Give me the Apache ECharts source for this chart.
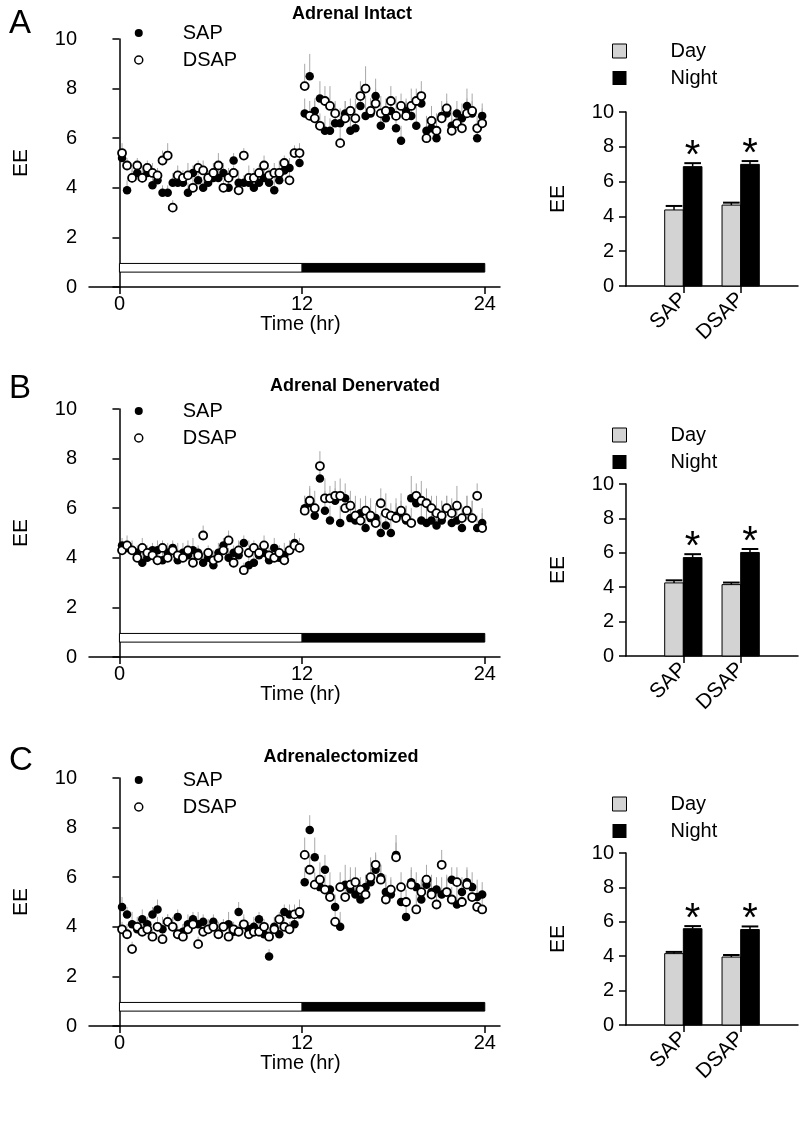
<!DOCTYPE html>
<html><head><meta charset="utf-8">
<script src="https://cdn.jsdelivr.net/npm/echarts@6/dist/echarts.min.js"></script>
<style>html,body{margin:0;padding:0;background:#fff}#c{width:800px;height:1124px}</style>
</head><body><div id="c"></div>
<script>
const FONT = "'Liberation Sans', Arial, sans-serif";

// sampling times (hr)
const times = [0.17,0.5,0.83,1.17,1.5,1.83,2.17,2.5,2.83,3.17,3.5,3.83,4.17,4.5,4.83,5.17,5.5,5.83,6.17,6.5,6.83,7.17,7.5,7.83,8.17,8.5,8.83,9.17,9.5,9.83,10.17,10.5,10.83,11.17,11.5,11.83,
  12.17,12.5,12.83,13.17,13.5,13.83,14.17,14.5,14.83,15.17,15.5,15.83,16.17,16.5,16.83,17.17,17.5,17.83,18.17,18.5,18.83,19.17,19.5,19.83,20.17,20.5,20.83,21.17,21.5,21.83,22.17,22.5,22.83,23.17,23.5,23.83];
const timeTicks = [0, 12, 24];

// Panel A — Adrenal Intact
const A_SAP = [5.2,3.9,4.4,4.6,4.4,4.6,4.1,4.3,3.8,3.8,4.2,4.2,4.2,3.8,4.6,4.3,4.0,4.2,4.4,4.4,4.6,4.0,5.1,4.2,4.2,4.2,4.0,4.2,4.4,4.2,3.9,4.3,4.7,4.8,5.4,5.0,
  7.0,8.5,7.1,7.6,6.3,6.3,6.6,6.6,7.0,6.3,6.4,7.3,6.9,7.0,7.7,6.5,6.8,7.1,6.4,5.9,7.1,6.9,6.5,7.4,6.3,6.4,6.0,6.9,7.0,6.5,7.0,6.8,7.3,7.0,6.0,6.9];
const A_DSAP = [5.4,4.9,4.4,4.9,4.4,4.8,4.6,4.5,5.1,5.3,3.2,4.5,4.4,4.5,4.0,4.8,4.7,4.4,4.6,4.9,4.0,4.4,4.6,3.9,5.3,4.4,4.4,4.6,4.9,4.5,4.6,4.6,5.0,4.3,5.4,5.4,
  8.1,6.9,6.8,6.5,7.5,7.3,7.0,5.8,6.8,7.1,6.8,7.7,8.0,7.1,7.4,7.0,7.1,7.5,6.9,7.3,6.9,7.3,7.5,7.7,6.0,6.7,6.3,6.8,7.2,6.3,6.6,6.4,7.0,7.1,6.4,6.6];
const A_SAP_SEM = [0.3,0.4,0.3,0.5,0.3,0.4,0.3,0.4,0.3,0.3,0.4,0.5,0.3,0.4,0.3,0.5,0.3,0.4,0.3,0.3,0.4,0.4,0.3,0.5,0.3,0.4,0.3,0.3,0.4,0.3,0.5,0.4,0.3,0.4,0.3,0.4,
  0.6,0.9,0.5,0.7,0.6,0.5,0.8,0.6,0.5,0.7,0.6,0.5,0.8,0.6,0.7,0.5,0.6,0.5,0.7,0.6,0.5,0.6,0.8,0.5,0.6,0.5,0.7,0.6,0.5,0.6,0.5,0.6,0.7,0.5,0.6,0.5];
const A_DSAP_SEM = [0.4,0.3,0.4,0.3,0.5,0.3,0.4,0.3,0.4,0.5,0.3,0.4,0.3,0.5,0.4,0.3,0.4,0.3,0.4,0.5,0.3,0.4,0.3,0.4,0.3,0.5,0.4,0.3,0.4,0.3,0.4,0.5,0.3,0.4,0.3,0.4,
  0.9,0.6,0.7,0.5,0.6,0.8,0.5,0.6,0.7,0.5,0.8,0.6,0.9,0.5,0.6,0.7,0.5,0.6,0.8,0.5,0.6,0.7,0.5,0.6,0.5,0.6,0.7,0.5,0.6,0.5,0.6,0.5,0.6,0.7,0.5,0.6];
const A_DAY_MEAN = [4.37, 4.65];
const A_DAY_SEM = [0.23, 0.14];
const A_NIGHT_MEAN = [6.86, 6.99];
const A_NIGHT_SEM = [0.2, 0.19];

// Panel B — Adrenal Denervated
const B_SAP = [4.5,4.4,4.3,4.2,3.8,4.0,4.3,4.3,3.9,4.2,4.4,3.9,4.2,4.1,4.3,4.2,3.8,4.0,3.7,4.2,4.5,4.0,4.2,4.1,4.6,3.7,3.8,4.1,4.2,3.9,4.4,4.0,4.1,4.3,4.6,4.4,
  6.0,6.2,5.7,7.2,5.9,5.5,6.3,5.4,6.4,5.6,5.5,5.8,5.2,5.6,5.6,5.0,5.3,5.0,5.7,5.8,5.5,6.4,6.2,5.5,5.4,5.5,5.3,5.5,6.0,5.4,5.5,5.2,5.9,5.6,5.2,5.4];
const B_DSAP = [4.3,4.5,4.3,4.0,4.4,4.2,4.1,3.9,4.4,4.0,4.3,4.1,4.0,4.3,3.8,4.1,4.9,4.2,3.9,4.0,4.3,4.7,3.8,4.3,3.5,4.2,4.4,4.2,4.5,4.1,4.0,4.2,3.9,4.3,4.5,4.4,
  5.9,6.3,6.0,7.7,6.4,6.4,6.5,6.5,6.0,6.1,5.7,5.5,5.9,5.7,5.4,6.2,5.8,5.7,5.6,5.9,5.6,5.4,6.5,6.3,6.2,6.0,5.8,5.7,6.0,5.8,6.1,5.6,5.9,5.6,6.5,5.2];
const B_SAP_SEM = [0.3,0.3,0.4,0.3,0.4,0.3,0.3,0.4,0.3,0.4,0.3,0.3,0.4,0.3,0.5,0.3,0.4,0.3,0.3,0.4,0.3,0.4,0.3,0.5,0.3,0.4,0.3,0.4,0.3,0.3,0.4,0.3,0.5,0.3,0.4,0.3,
  0.5,0.7,0.6,0.5,0.8,0.6,0.5,0.7,0.6,0.5,0.8,0.6,0.7,0.5,0.6,0.8,0.5,0.6,0.7,0.5,0.6,0.9,0.5,0.6,0.7,0.5,0.6,0.8,0.5,0.6,0.7,0.5,0.6,0.7,0.5,0.6];
const B_DSAP_SEM = [0.3,0.4,0.3,0.3,0.4,0.3,0.4,0.3,0.3,0.4,0.3,0.5,0.3,0.4,0.3,0.3,0.4,0.3,0.4,0.3,0.3,0.4,0.3,0.4,0.3,0.5,0.3,0.3,0.4,0.3,0.4,0.3,0.3,0.4,0.3,0.4,
  0.6,0.5,0.7,0.6,0.8,0.5,0.6,0.7,0.5,0.6,0.8,0.5,0.6,0.7,0.5,0.6,0.8,0.5,0.6,0.7,0.5,0.6,0.5,0.8,0.6,0.5,0.7,0.6,0.5,0.6,0.8,0.5,0.6,0.7,0.5,0.6];
const B_DAY_MEAN = [4.25, 4.15];
const B_DAY_SEM = [0.15, 0.12];
const B_NIGHT_MEAN = [5.72, 6.02];
const B_NIGHT_SEM = [0.2, 0.2];

// Panel C — Adrenalectomized
const C_SAP = [4.8,4.5,4.1,3.9,4.3,4.1,4.5,4.7,3.9,4.2,4.0,4.4,3.8,4.1,4.3,4.1,4.2,3.9,4.2,3.7,4.0,4.1,3.8,4.6,4.1,3.9,4.0,4.3,3.7,2.8,4.0,3.7,4.6,4.5,4.1,4.5,
  5.8,7.9,6.8,5.6,6.3,5.5,4.8,4.0,5.7,5.5,5.3,5.1,5.6,5.8,6.3,6.0,5.4,5.3,6.9,5.0,4.4,5.8,5.6,5.1,5.7,5.4,5.5,5.3,5.4,5.9,4.9,5.4,5.8,5.6,5.2,5.3];
const C_DSAP = [3.9,3.7,3.1,4.0,3.8,3.9,3.6,4.0,3.5,4.2,4.0,3.7,3.6,3.9,4.1,3.3,3.8,3.9,4.0,3.7,4.0,3.6,3.9,3.8,4.1,3.7,3.8,3.8,4.0,3.6,3.9,4.3,4.0,3.9,4.5,4.6,
  6.9,6.3,5.7,5.9,5.5,5.2,4.2,5.6,5.2,5.7,5.8,5.5,5.3,6.0,6.5,5.9,5.1,5.5,6.8,5.6,5.0,5.7,4.7,5.4,5.9,5.3,4.9,6.5,5.4,5.1,5.8,5.0,5.7,5.2,4.8,4.7];
const C_SAP_SEM = [0.4,0.3,0.5,0.3,0.4,0.3,0.3,0.4,0.5,0.3,0.4,0.3,0.3,0.4,0.3,0.5,0.3,0.4,0.3,0.4,0.3,0.5,0.3,0.4,0.3,0.3,0.4,0.3,0.5,0.3,0.4,0.3,0.3,0.4,0.5,0.4,
  0.6,0.6,0.8,0.5,0.6,0.7,0.5,0.6,0.8,0.5,0.6,0.7,0.5,0.8,0.6,0.5,0.7,0.6,0.5,0.6,0.8,0.5,0.6,0.7,0.5,0.6,0.5,0.7,0.6,0.5,0.8,0.6,0.5,0.6,0.7,0.5];
const C_DSAP_SEM = [0.3,0.4,0.3,0.4,0.3,0.5,0.3,0.4,0.3,0.3,0.4,0.3,0.5,0.3,0.4,0.3,0.3,0.4,0.3,0.5,0.3,0.4,0.3,0.3,0.4,0.3,0.4,0.5,0.3,0.4,0.3,0.3,0.4,0.3,0.4,0.5,
  0.7,0.6,0.5,0.7,0.6,0.5,0.8,0.6,0.5,0.7,0.6,0.5,0.6,0.8,0.5,0.6,0.7,0.5,0.9,0.6,0.5,0.7,0.6,0.5,0.6,0.8,0.5,0.6,0.7,0.5,0.6,0.5,0.7,0.6,0.5,0.6];
const C_DAY_MEAN = [4.15, 3.95];
const C_DAY_SEM = [0.1, 0.12];
const C_NIGHT_MEAN = [5.6, 5.55];
const C_NIGHT_SEM = [0.15, 0.18];

const barGroups = ['SAP', 'DSAP'];
const barGroupPos = [1, 2];
const sigMarks = ['*', '*'];
const phases = [ {from: 0, to: 12, kind: 'light'}, {from: 12, to: 24, kind: 'dark'} ];
const phaseBarLevel = [0.6, 0.95];

const panelLetters = ['A', 'B', 'C'];
const panelTitles = ['Adrenal Intact', 'Adrenal Denervated', 'Adrenalectomized'];

const panels = [
  {sap: A_SAP, dsap: A_DSAP, sapSem: A_SAP_SEM, dsapSem: A_DSAP_SEM, dm: A_DAY_MEAN, ds: A_DAY_SEM, nm: A_NIGHT_MEAN, ns: A_NIGHT_SEM},
  {sap: B_SAP, dsap: B_DSAP, sapSem: B_SAP_SEM, dsapSem: B_DSAP_SEM, dm: B_DAY_MEAN, ds: B_DAY_SEM, nm: B_NIGHT_MEAN, ns: B_NIGHT_SEM},
  {sap: C_SAP, dsap: C_DSAP, sapSem: C_SAP_SEM, dsapSem: C_DSAP_SEM, dm: C_DAY_MEAN, ds: C_DAY_SEM, nm: C_NIGHT_MEAN, ns: C_NIGHT_SEM}
];

// layout (pixels)
const layout = [
  {scTop: 39,  barTop: 112, barH: 174, titleX: 347, titleY: 0,   letterY: 2,   sLeg: 18,  bLeg: 36},
  {scTop: 409, barTop: 484, barH: 172, titleX: 350, titleY: 372, letterY: 367, sLeg: 396, bLeg: 420},
  {scTop: 778, barTop: 853, barH: 172, titleX: 336, titleY: 743, letterY: 739, sLeg: 765, bLeg: 789}
];

const axisLineStyle = {show: true, lineStyle: {color: '#000', width: 1.5}};
const tickStyle = {show: true, inside: false, length: 7, lineStyle: {color: '#000', width: 1.5}};
const labelStyle = {color: '#000', fontSize: 20, fontFamily: FONT};

const option = {
  animation: false,
  backgroundColor: '#fff',
  title: [], legend: [], grid: [], xAxis: [], yAxis: [], series: []
};

panels.forEach((P, k) => {
  const L = layout[k];
  const gs = k * 2, gb = k * 2 + 1;
  option.title.push({text: panelLetters[k], left: 4, top: L.letterY, textStyle: {fontSize: 33, fontWeight: 'normal', color: '#000', fontFamily: FONT}});
  option.title.push({text: panelTitles[k], left: L.titleX, top: L.titleY, textAlign: 'center', textStyle: {fontSize: 18, fontWeight: 'bold', color: '#000', fontFamily: FONT}});

  option.grid.push({left: 89, top: L.scTop, width: 411, height: 248, containLabel: false});
  option.grid.push({left: 626, top: L.barTop, width: 172, height: L.barH, containLabel: false});

  option.xAxis.push({
    type: 'value', gridIndex: gs, min: -2, max: 25,
    axisLine: axisLineStyle, splitLine: {show: false},
    axisTick: Object.assign({customValues: timeTicks}, tickStyle),
    axisLabel: Object.assign({customValues: timeTicks, margin: 7}, labelStyle),
    name: 'Time (hr)', nameLocation: 'middle', nameGap: 25,
    nameTextStyle: {color: '#000', fontSize: 20, fontFamily: FONT, padding: [0, 0, 0, 12]}
  });
  option.yAxis.push({
    type: 'value', gridIndex: gs, min: 0, max: 10, interval: 2,
    axisLine: axisLineStyle, splitLine: {show: false}, axisTick: tickStyle,
    axisLabel: Object.assign({margin: 12}, labelStyle),
    name: 'EE', nameLocation: 'middle', nameGap: 57, nameRotate: 90,
    nameTextStyle: {color: '#000', fontSize: 21, fontFamily: FONT}
  });
  option.xAxis.push({
    type: 'value', gridIndex: gb, min: 0, max: 3,
    axisLine: axisLineStyle, splitLine: {show: false},
    axisTick: Object.assign({customValues: barGroupPos}, tickStyle),
    axisLabel: Object.assign({}, labelStyle, {customValues: barGroupPos, rotate: 45, margin: 10, fontSize: 21,
      formatter: v => barGroups[barGroupPos.indexOf(v)] || ''})
  });
  option.yAxis.push({
    type: 'value', gridIndex: gb, min: 0, max: 10, interval: 2,
    axisLine: axisLineStyle, splitLine: {show: false}, axisTick: tickStyle,
    axisLabel: Object.assign({margin: 12}, labelStyle),
    name: 'EE', nameLocation: 'middle', nameGap: 57, nameRotate: 90,
    nameTextStyle: {color: '#000', fontSize: 21, fontFamily: FONT}
  });

  option.legend.push({
    left: 129, top: L.sLeg, orient: 'vertical', itemWidth: 8, itemHeight: 8, itemGap: 7, selectedMode: false,
    data: [{name: 'SAP', icon: 'circle', itemStyle: {color: '#000', borderWidth: 0}},
           {name: 'DSAP', icon: 'circle', itemStyle: {color: '#fff', borderColor: '#000', borderWidth: 1.5}}],
    textStyle: {color: '#000', fontSize: 20, fontFamily: FONT, lineHeight: 20, padding: [0, 0, 0, 35]}
  });
  option.legend.push({
    left: 607, top: L.bLeg, orient: 'vertical', itemWidth: 14, itemHeight: 14, itemGap: 7, selectedMode: false,
    data: [{name: 'Day', icon: 'rect', itemStyle: {color: '#d3d3d3', borderColor: '#000', borderWidth: 1}},
           {name: 'Night', icon: 'rect', itemStyle: {color: '#000'}}],
    textStyle: {color: '#000', fontSize: 20, fontFamily: FONT, lineHeight: 20, padding: [0, 0, 0, 39]}
  });

  // light/dark phase bar
  option.series.push({
    type: 'custom', name: 'phase' + k, xAxisIndex: gs, yAxisIndex: gs, silent: true, z: 1,
    data: phases.map(p => [p.from, p.to, phaseBarLevel[0], phaseBarLevel[1], p.kind === 'dark' ? 1 : 0]),
    encode: {x: [0, 1], y: [2, 3]},
    renderItem: (params, api) => {
      const a = api.coord([api.value(0), api.value(3)]);
      const b = api.coord([api.value(1), api.value(2)]);
      const dark = api.value(4) === 1;
      return {type: 'rect', shape: {x: a[0], y: a[1], width: b[0] - a[0], height: b[1] - a[1]},
        style: {fill: dark ? '#000' : '#fff', stroke: '#000', lineWidth: 1}};
    }
  });

  // error bars then points
  [[P.sap, P.sapSem, 'SAP'], [P.dsap, P.dsapSem, 'DSAP']].forEach(([vals, sem, nm]) => {
    option.series.push({
      type: 'custom', name: nm + ' SEM ' + k, xAxisIndex: gs, yAxisIndex: gs, silent: true, z: 2,
      data: times.map((t, i) => [t, vals[i], sem[i] || 0]),
      encode: {x: 0, y: 1},
      renderItem: (params, api) => {
        const p0 = api.coord([api.value(0), api.value(1)]);
        const p1 = api.coord([api.value(0), api.value(1) + api.value(2)]);
        return {type: 'line', shape: {x1: p0[0], y1: p0[1], x2: p1[0], y2: p1[1]},
          style: {stroke: '#a8a8a8', lineWidth: 1}};
      }
    });
  });
  option.series.push({
    type: 'scatter', name: 'SAP', xAxisIndex: gs, yAxisIndex: gs, z: 3,
    symbol: 'circle', symbolSize: 8.5,
    itemStyle: {color: '#000', opacity: 1},
    data: times.map((t, i) => [t, P.sap[i]])
  });
  option.series.push({
    type: 'scatter', name: 'DSAP', xAxisIndex: gs, yAxisIndex: gs, z: 4,
    symbol: 'circle', symbolSize: 8,
    itemStyle: {color: '#fff', borderColor: '#000', borderWidth: 1.8, opacity: 1},
    data: times.map((t, i) => [t, P.dsap[i]])
  });

  // bar chart (custom bars with SEM caps)
  const mkBar = (name, means, sems, side) => ({
    type: 'custom', name: name, xAxisIndex: gb, yAxisIndex: gb, z: 3,
    itemStyle: {color: side < 0 ? '#d3d3d3' : '#000'},
    data: barGroupPos.map((x, i) => [x, means[i], sems[i], i]),
    encode: {x: 0, y: 1},
    renderItem: (params, api) => {
      const x = api.value(0), m = api.value(1), s = api.value(2), gi = api.value(3);
      const w = 0.325;
      const x0 = side < 0 ? x - w : x, x1 = side < 0 ? x : x + w;
      const pTL = api.coord([x0, m]);
      const pBR = api.coord([x1, 0]);
      const cx = (api.coord([x0 + w / 2, m]))[0];
      const top = api.coord([x0, m + s])[1];
      const bw = pBR[0] - pTL[0];
      const children = [
        {type: 'rect', shape: {x: pTL[0], y: pTL[1], width: bw, height: pBR[1] - pTL[1]},
          style: {fill: side < 0 ? '#d3d3d3' : '#000', stroke: '#000', lineWidth: 1}},
        {type: 'line', shape: {x1: cx, y1: pTL[1], x2: cx, y2: top}, style: {stroke: '#000', lineWidth: 1.5}},
        {type: 'line', shape: {x1: pTL[0] + 1, y1: top, x2: pBR[0] - 1, y2: top}, style: {stroke: '#000', lineWidth: 2}}
      ];
      if (side > 0 && sigMarks[gi]) {
        children.push({type: 'text', x: cx, y: top - 6,
          style: {text: sigMarks[gi], fill: '#000', fontSize: 40, fontFamily: FONT, align: 'center', verticalAlign: 'middle'}});
      }
      return {type: 'group', children: children};
    }
  });
  option.series.push(mkBar('Day', P.dm, P.ds, -1));
  option.series.push(mkBar('Night', P.nm, P.ns, 1));
});

const chart = echarts.init(document.getElementById('c'), null, {renderer: 'canvas', width: 800, height: 1124});
chart.setOption(option);
</script>
</body></html>
